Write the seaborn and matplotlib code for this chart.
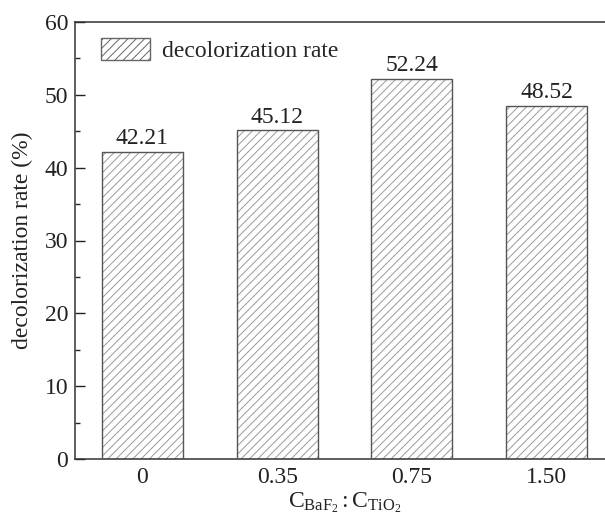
import matplotlib
matplotlib.use("Agg")
import matplotlib.pyplot as plt
import seaborn as sns
import pandas as pd
from matplotlib.patches import Rectangle
from matplotlib.ticker import MultipleLocator

categories = ["0", "0.35", "0.75", "1.50"]
values = [42.21, 45.12, 52.24, 48.52]
value_labels = ["42.21", "45.12", "52.24", "48.52"]
series_name = "decolorization rate"

sns.set_theme(style="white")
plt.rcParams["font.family"] = ["Liberation Serif", "DejaVu Serif"]
plt.rcParams["mathtext.fontset"] = "custom"
plt.rcParams["mathtext.rm"] = "Liberation Serif"
plt.rcParams["mathtext.it"] = "Liberation Serif:italic"
plt.rcParams["hatch.linewidth"] = 0.7

FS = 17
df = pd.DataFrame({"ratio": categories, "rate": values, "series": series_name})

fig = plt.figure(figsize=(6.05, 5.18), dpi=100)
W, H = 605, 518
left, right, top, bottom = 75, 614, 22, 459
ax = fig.add_axes([left / W, 1 - bottom / H, (right - left) / W, (bottom - top) / H])

sns.barplot(data=df, x="ratio", y="rate", hue="series", width=0.6,
            palette=["white"], edgecolor="#9a9a9a", linewidth=0, hatch="////",
            ax=ax, legend=False)

for p in list(ax.patches):
    ax.add_patch(Rectangle(p.get_xy(), p.get_width(), p.get_height(),
                           fill=False, edgecolor="#555555", linewidth=1.0, zorder=3))

ax.bar_label(ax.containers[0], labels=value_labels, padding=2, fontsize=FS, color="#222222")

handle = Rectangle((0, 0), 1, 1, facecolor="white", edgecolor="#666666",
                   hatch="////", linewidth=1.0)
leg = ax.legend([handle], [series_name], loc="upper left", frameon=False,
                fontsize=FS, handlelength=2.1, handleheight=1.05,
                bbox_to_anchor=(0.008, 1.012), handletextpad=0.5)

ax.set_ylim(0, 60)
ax.set_xlim(-0.5, 3.5)
ax.yaxis.set_major_locator(MultipleLocator(10))
ax.yaxis.set_minor_locator(MultipleLocator(5))
ax.tick_params(axis="y", which="major", direction="in", length=7, width=1, labelsize=FS,
               left=True, colors="#222222", pad=5)
ax.tick_params(axis="y", which="minor", direction="in", length=3.5, width=1, left=True)
ax.tick_params(axis="x", length=0, labelsize=FS, pad=6, colors="#222222")

for s in ["left", "bottom", "top"]:
    ax.spines[s].set_visible(True)
    ax.spines[s].set_color("#333333")
    ax.spines[s].set_linewidth(1.1)
ax.spines["right"].set_visible(False)

ax.set_ylabel("decolorization rate (%)", fontsize=FS, color="#222222")
ax.yaxis.set_label_coords(-0.078, 0.5)
ax.set_xlabel(r"$\mathrm{C_{BaF_2}:C_{TiO_2}}$", fontsize=FS, color="#222222")
ax.xaxis.set_label_coords(0.5, -0.072)

fig.savefig("out.png", dpi=100)
